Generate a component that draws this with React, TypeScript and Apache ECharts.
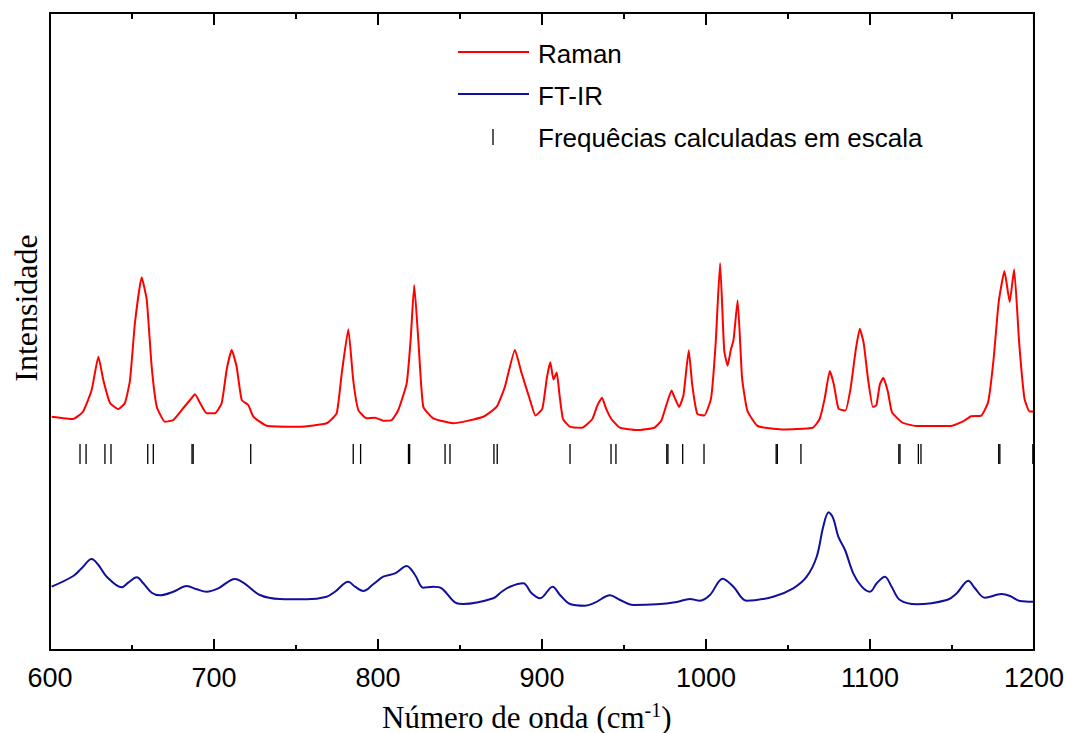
import React, { useEffect, useRef } from "react";
import * as echarts from "echarts";

// Raman spectrum: [wavenumber (cm-1), intensity (arb.)]
const ramanData: [number, number][] = [
  [601.0, 233.3], [614.0, 231], [620.1, 238.3], [625.4, 260], [629.5, 293.3], [632.5, 270],
  [636.6, 247], [641.6, 241], [645.7, 247], [648.8, 270], [651.8, 327], [655.9, 372.7],
  [659.0, 350], [662.0, 283.3], [665.1, 243.3], [670.1, 228.3], [675.2, 230], [681.3, 242],
  [685.4, 250], [688.4, 255.7], [691.5, 247], [695.5, 236.7], [700.6, 236.7], [704.7, 247],
  [707.7, 280], [710.8, 300], [713.8, 283.3], [716.9, 250], [720.9, 245], [724.0, 233.3],
  [732.1, 224.3], [752.4, 223.3], [768.7, 226.7], [774.8, 236.7], [777.9, 276.7], [781.9, 320.7],
  [784.9, 270], [788.0, 240], [793.1, 231.7], [798.2, 232.3], [803.2, 229.3], [808.4, 230],
  [812.4, 240], [817.5, 266.7], [819.9, 310], [822.1, 365], [824.6, 310], [827.6, 243.3],
  [833.7, 231.7], [845.9, 226.7], [864.2, 233.3], [872.4, 243.3], [877.4, 263.3], [883.5, 300],
  [887.6, 276.7], [892.7, 250], [896.0, 234.4], [900.2, 241.3], [903.0, 272.3], [905.1, 287.8],
  [907.0, 270.5], [909.0, 277.4], [910.7, 255], [912.8, 231], [917.0, 223.4], [924.4, 222.3],
  [930.7, 231], [933.8, 244.7], [936.6, 252.3], [939.1, 241.3], [942.3, 231], [947.5, 222.3],
  [958.0, 219.9], [968.5, 222.3], [972.7, 229.2], [975.8, 244.7], [979.0, 259.5], [981.1, 251.6],
  [983.6, 243], [986.3, 255], [989.5, 299.8], [991.6, 265.4], [994.7, 236.1], [998.9, 234.4],
  [1003.1, 251.6], [1005.9, 306.7], [1008.6, 386.9], [1011.1, 299.8], [1013.2, 284.3], [1015.1, 299.8],
  [1016.8, 310.1], [1019.3, 349.7], [1022.0, 272.3], [1025.2, 239.5], [1031.5, 224], [1046.2, 220.6],
  [1065.1, 222.3], [1069.3, 231], [1072.4, 251.6], [1075.5, 279.1], [1078.0, 265.4], [1080.8, 241.3],
  [1085.0, 239.5], [1088.2, 261.9], [1091.3, 299.8], [1093.8, 321.2], [1096.2, 306.7], [1098.7, 272.3],
  [1101.8, 243], [1103.9, 244.7], [1106.0, 265.4], [1108.1, 272.3], [1110.9, 258.5], [1113.4, 237.8],
  [1119.6, 227.5], [1128.0, 224], [1149.0, 224], [1157.4, 229.2], [1161.6, 233.7], [1167.9, 234.4],
  [1172.1, 248.2], [1175.3, 289.5], [1178.5, 348], [1182.0, 379], [1185.2, 348], [1187.9, 380.7],
  [1191.0, 306.7], [1194.2, 251.6], [1197.3, 238.5], [1200.0, 238.5],
];

// FT-IR spectrum: [wavenumber (cm-1), intensity (arb.)]
const ftirData: [number, number][] = [
  [601.0, 63.3], [614.2, 74], [619.3, 81.7], [625.4, 91], [629.5, 85], [634.6, 73.3],
  [643.7, 62.7], [647.7, 67.3], [652.9, 72.7], [656.9, 66.7], [662.0, 57.3], [667.1, 54.7],
  [675.2, 58.3], [683.4, 64], [689.5, 60.7], [695.5, 58.3], [702.6, 61.7], [712.8, 71],
  [717.9, 67.3], [728.0, 55], [740.2, 51], [756.5, 50.7], [768.7, 53.3], [773.8, 58.3],
  [781.9, 68.3], [786.0, 63.3], [791.0, 59], [797.1, 65.7], [803.2, 73.3], [810.4, 76.7],
  [817.5, 84], [822.6, 75], [827.6, 62.3], [833.7, 63.3], [838.8, 61.7], [848.0, 46.7],
  [852.0, 46], [870.3, 51.7], [875.4, 58.3], [880.5, 63.3], [888.6, 66.7], [893.7, 56.7],
  [898.8, 51.7], [906.5, 63.3], [911.0, 55], [917.1, 46], [926.2, 44.3], [932.3, 47.3],
  [941.5, 54.7], [947.6, 50], [955.7, 45], [969.9, 45.7], [982.1, 48], [990.2, 51],
  [996.3, 49.3], [1002.4, 55], [1010.2, 71.3], [1016.7, 63.3], [1024.8, 49.3], [1041.0, 53.3],
  [1053.2, 61.7], [1061.4, 73.3], [1067.5, 93.3], [1071.5, 123.3], [1074.8, 137.7], [1077.6, 131.7],
  [1080.7, 113.3], [1084.8, 100], [1089.8, 76.7], [1095.0, 63.3], [1100.0, 58.3], [1104.1, 66.7],
  [1109.1, 73.3], [1113.2, 63.3], [1118.3, 50], [1128.5, 45.7], [1146.8, 50], [1152.9, 56.7],
  [1160.0, 69.3], [1164.0, 61.7], [1170.1, 52.3], [1180.3, 56], [1185.4, 54], [1191.5, 49],
  [1199.6, 48.3],
];

// Scaled calculated frequencies (cm-1)
const calcFreqs: number[] = [
  618.3, 622.0, 633.5, 637.2, 659.6, 663.0, 686.6, 687.3, 722.4, 784.9, 789.4,
  818.6, 819.3, 840.9, 843.9, 870.7, 872.7, 917.1, 942.1, 945.1, 976.1, 976.8,
  985.8, 998.8, 1042.8, 1043.5, 1057.9, 1117.6, 1118.3, 1129.5, 1131.1,
  1178.5, 1179.2, 1199.3, 1199.8,
];
const stickLow = 186;
const stickHigh = 206;

const xTicks = { min: 600, max: 1200, interval: 100, minorStep: 50 };
const yRange = { min: 0, max: 637 };
const legendLabels = ["Raman", "FT-IR", "Frequêcias calculadas em escala"];
const xTitle = "Número de onda (cm{sup|-1})";
const yTitle = "Intensidade";

const RED = "#ff0000";
const BLUE = "#10109c";
const SANS = "'Liberation Sans', Arial, Helvetica, sans-serif";
const SERIF = "'Liberation Serif', 'Times New Roman', Times, serif";

function makeXAxis(position: string, withLabels: boolean): any {
  return {
    type: "value",
    position,
    min: xTicks.min,
    max: xTicks.max,
    interval: xTicks.interval,
    axisLine: { show: true, onZero: false, lineStyle: { color: "#000", width: 2 } },
    axisTick: { show: true, inside: true, length: 11, lineStyle: { color: "#000", width: 2 } },
    minorTick: { show: true, splitNumber: 2, length: 5, lineStyle: { color: "#000", width: 2 } },
    splitLine: { show: false },
    minorSplitLine: { show: false },
    axisLabel: withLabels
      ? { show: true, color: "#000", fontSize: 27, fontFamily: SANS, margin: 14, formatter: (v: number) => String(v) }
      : { show: false },
  };
}

function makeYAxis(position: string): any {
  return {
    type: "value",
    position,
    min: yRange.min,
    max: yRange.max,
    axisLine: { show: true, onZero: false, lineStyle: { color: "#000", width: 2 } },
    axisTick: { show: false },
    axisLabel: { show: false },
    splitLine: { show: false },
  };
}

export default function App() {
  const ref = useRef<HTMLDivElement>(null);
  useEffect(() => {
    if (!ref.current) return;
    const chart = echarts.init(ref.current, undefined, { renderer: "svg" });
    const staticGraphic: any[] = [
      { type: "line", shape: { x1: 458, y1: 52, x2: 529, y2: 52 }, style: { stroke: RED, lineWidth: 2 } },
      { type: "line", shape: { x1: 458, y1: 94, x2: 529, y2: 94 }, style: { stroke: BLUE, lineWidth: 2 } },
      { type: "line", shape: { x1: 493, y1: 129, x2: 493, y2: 145 }, style: { stroke: "#000", lineWidth: 1.3 } },
      {
        type: "text", x: 538, y: 54,
        style: { text: legendLabels[0], fill: "#000", font: `26px ${SANS}`, textAlign: "left", textVerticalAlign: "middle" },
      },
      {
        type: "text", x: 538, y: 96,
        style: { text: legendLabels[1], fill: "#000", font: `26px ${SANS}`, textAlign: "left", textVerticalAlign: "middle" },
      },
      {
        type: "text", x: 538, y: 138,
        style: { text: legendLabels[2], fill: "#000", font: `26px ${SANS}`, textAlign: "left", textVerticalAlign: "middle" },
      },
      {
        type: "text", x: 382, y: 717,
        style: {
          text: xTitle,
          fill: "#000",
          font: `31px ${SERIF}`,
          textAlign: "left",
          textVerticalAlign: "middle",
          rich: {
            sup: { fontSize: 20, fontFamily: SERIF, fill: "#000", padding: [0, 0, 15, 0] },
          },
        },
      },
      {
        type: "text", x: 26, y: 308, rotation: Math.PI / 2,
        style: { text: yTitle, fill: "#000", font: `32px ${SERIF}`, textAlign: "center", textVerticalAlign: "middle" },
      },
    ];
    chart.setOption({
      animation: false,
      backgroundColor: "#fff",
      grid: { left: 50, right: 33, top: 13, bottom: 83 },
      xAxis: [makeXAxis("bottom", true), makeXAxis("top", false)],
      yAxis: [makeYAxis("left"), makeYAxis("right")],
      series: [
        {
          name: legendLabels[0],
          type: "line",
          data: ramanData,
          showSymbol: false,
          symbol: "none",
          smooth: 0.15,
          lineStyle: { color: RED, width: 2 },
          z: 3,
        },
        {
          name: legendLabels[1],
          type: "line",
          data: ftirData,
          showSymbol: false,
          symbol: "none",
          smooth: 0.35,
          lineStyle: { color: BLUE, width: 2 },
          z: 3,
        },
        {
          name: legendLabels[2],
          type: "custom",
          data: calcFreqs.map((f) => [f, stickLow, stickHigh]),
          encode: { x: 0, y: [1, 2] },
          renderItem: (params: any, api: any) => {
            const f = api.value(0);
            const p1 = api.coord([f, api.value(1)]);
            const p2 = api.coord([f, api.value(2)]);
            return {
              type: "line",
              shape: { x1: p1[0], y1: p1[1], x2: p2[0], y2: p2[1] },
              style: { stroke: "#000", lineWidth: 1.3 },
            };
          },
          z: 2,
        },
      ],
      graphic: staticGraphic,
    });

    // Frame (top and right edges) and top ticks, placed through the axes' own scales.
    const px = (v: number) => chart.convertToPixel({ xAxisIndex: 0 }, v) as number;
    const py = (v: number) => chart.convertToPixel({ yAxisIndex: 0 }, v) as number;
    const xl = px(xTicks.min), xr = px(xTicks.max);
    const yt = py(yRange.max), yb = py(yRange.min);
    const frame: any[] = [
      { type: "line", z: 100, shape: { x1: xl - 1, y1: yt, x2: xr + 1, y2: yt }, style: { stroke: "#000", lineWidth: 2 } },
      { type: "line", z: 100, shape: { x1: xr, y1: yt, x2: xr, y2: yb }, style: { stroke: "#000", lineWidth: 2 } },
    ];
    for (let v = xTicks.min; v <= xTicks.max; v += xTicks.minorStep) {
      const major = (v - xTicks.min) % xTicks.interval === 0;
      const x = px(v);
      frame.push({
        type: "line", z: 100,
        shape: { x1: x, y1: yt, x2: x, y2: yt + (major ? 12 : 6) },
        style: { stroke: "#000", lineWidth: 2 },
      });
    }
    chart.setOption({ graphic: [...staticGraphic, ...frame] });
    return () => chart.dispose();
  }, []);
  return <div ref={ref} style={{ width: 1067, height: 733, position: "absolute", left: 0, top: 0 }} />;
}
